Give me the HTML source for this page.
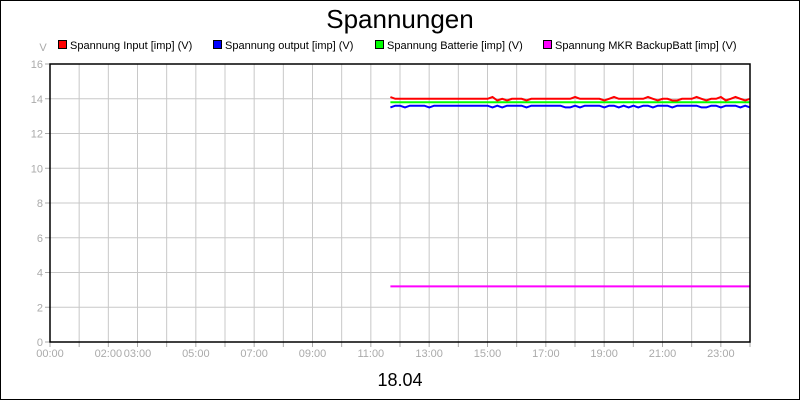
<!DOCTYPE html>
<html><head><meta charset="utf-8"><style>
body{margin:0;background:#fff}
svg{display:block;font-family:"Liberation Sans",sans-serif}
</style></head><body>
<svg width="800" height="400">
<rect x="0.5" y="0.5" width="799" height="399" fill="#fff" stroke="#000"/>
<text x="400" y="28" font-size="26" text-anchor="middle">Spannungen</text>
<text x="400" y="386" font-size="18" text-anchor="middle">18.04</text>
<text x="43" y="51" font-size="11" fill="#aaa" text-anchor="middle">V</text>
<g id="legend"></g>
<g id="grid"></g>
<g id="series"></g>
<g id="axes"></g>
</svg>
<script>
const yTicks=[0,2,4,6,8,10,12,14,16];
const xTickLabels=["00:00","02:00","03:00","05:00","07:00","09:00","11:00","13:00","15:00","17:00","19:00","21:00","23:00"];
const xTickHours=[0,2,3,5,7,9,11,13,15,17,19,21,23];
const seriesNames=["Spannung Input [imp] (V)","Spannung output [imp] (V)","Spannung Batterie [imp] (V)","Spannung MKR BackupBatt [imp] (V)"];
const seriesColors=["#ff0000","#0000ff","#00ff00","#ff00ff"];
const startHour=11.67, stepHour=1/6;
const redVals=[14.1,14.0,14.0,14.0,14.0,14.0,14.0,14.0,14.0,14.0,14.0,14.0,14.0,14.0,14.0,14.0,14.0,14.0,14.0,14.0,14.0,14.1,13.9,14.0,13.9,14.0,14.0,14.0,13.9,14.0,14.0,14.0,14.0,14.0,14.0,14.0,14.0,14.0,14.1,14.0,14.0,14.0,14.0,14.0,13.9,14.0,14.1,14.0,14.0,14.0,14.0,14.0,14.0,14.1,14.0,13.9,14.0,14.0,13.9,13.9,14.0,14.0,14.0,14.1,14.0,13.9,14.0,14.0,14.1,13.9,14.0,14.1,14.0,13.9,14.0];
const blueVals=[13.5,13.6,13.6,13.5,13.6,13.6,13.6,13.6,13.5,13.6,13.6,13.6,13.6,13.6,13.6,13.6,13.6,13.6,13.6,13.6,13.6,13.5,13.6,13.5,13.6,13.6,13.6,13.6,13.5,13.6,13.6,13.6,13.6,13.6,13.6,13.6,13.5,13.5,13.6,13.5,13.6,13.6,13.6,13.6,13.5,13.6,13.6,13.5,13.6,13.5,13.6,13.5,13.6,13.6,13.5,13.6,13.6,13.6,13.5,13.6,13.6,13.6,13.6,13.6,13.5,13.5,13.6,13.6,13.5,13.6,13.6,13.6,13.5,13.6,13.5];
const greenVals=Array(75).fill(13.8);
const magentaVals=Array(75).fill(3.2);
const allSeries=[redVals,blueVals,greenVals,magentaVals];

const X0=50,X1=750,Y0=342,Y1=64;
const xs=h=>X0+(X1-X0)*h/24;
const ys=v=>Y0-(Y0-Y1)*v/16;
const NS="http://www.w3.org/2000/svg";
function mk(tag,attrs,parent,txt){const e=document.createElementNS(NS,tag);for(const k in attrs)e.setAttribute(k,attrs[k]);if(txt!==undefined)e.textContent=txt;parent.appendChild(e);return e;}
const grid=document.getElementById('grid'),axes=document.getElementById('axes'),ser=document.getElementById('series'),leg=document.getElementById('legend');
for(let h=1;h<24;h++){const l=mk('line',{x1:xs(h),x2:xs(h),y1:Y1,y2:Y0,stroke:'#c8c8c8'},grid);

}
yTicks.forEach(v=>{if(v>0&&v<16){const l=mk('line',{x1:X0,x2:X1,y1:ys(v),y2:ys(v),stroke:'#c8c8c8'},grid);

}
mk('line',{x1:X0-5,x2:X0,y1:ys(v),y2:ys(v),stroke:'#aaa'},axes);
const t=mk('text',{x:X0-7,y:ys(v)+4,'font-size':11,fill:'#aaa','text-anchor':'end'},axes,String(v));

});
for(let h=0;h<=24;h++)mk('line',{x1:xs(h),x2:xs(h),y1:Y0,y2:Y0+5,stroke:'#aaa'},axes);
xTickHours.forEach((h,i)=>{const t=mk('text',{x:xs(h),y:Y0+15,'font-size':11,fill:'#aaa','text-anchor':'middle'},axes,xTickLabels[i]);

});
const pr=mk('rect',{x:X0,y:Y1,width:X1-X0,height:Y0-Y1,fill:'none',stroke:'#000','stroke-width':1.5},axes);


[2,3,1,0].forEach(si=>{const vals=allSeries[si];
const pts=vals.map((v,i)=>xs(startHour+i*stepHour).toFixed(1)+','+ys(v).toFixed(1)).join(' ');
const p=mk('polyline',{points:pts,fill:'none',stroke:seriesColors[si],'stroke-width':2},ser);

});
const legX=[58,213,375,543];
seriesNames.forEach((n,i)=>{const g=mk('g',{},leg);


mk('rect',{x:legX[i]+0.5,y:40.5,width:8,height:8,fill:seriesColors[i],stroke:'#000'},g);
mk('text',{x:legX[i]+12,y:49,'font-size':11},g,n);});
</script>
</body></html>
